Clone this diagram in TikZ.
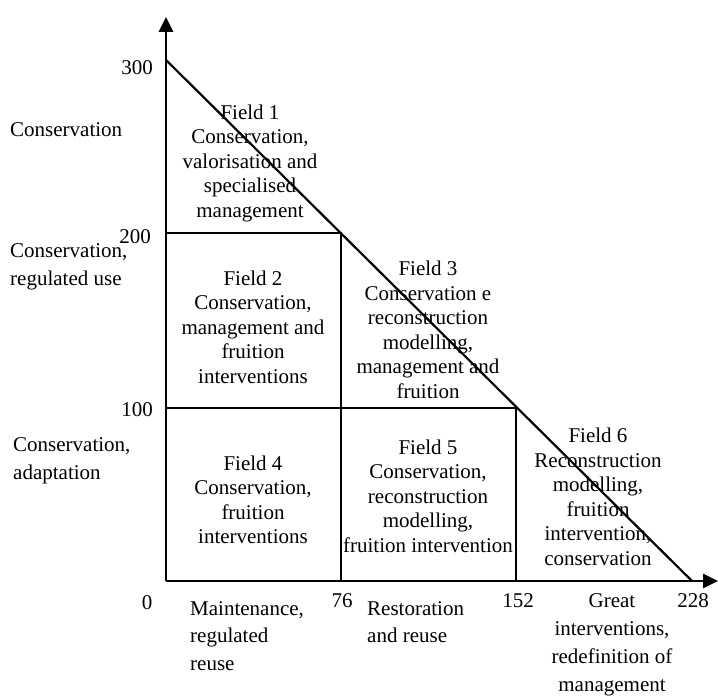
\documentclass[tikz,border=0pt]{standalone}
\usepackage{fontspec}
\setmainfont{Liberation Serif}
\usetikzlibrary{arrows.meta}
\begin{document}
\begin{tikzpicture}[x=1pt,y=-1pt,
  axis/.style={line width=2.8pt, -{Triangle[width=14pt,length=15pt]}},
  diag/.style={line width=2.2pt},
  gridline/.style={line width=1.8pt},
  fieldtxt/.style={font=\fontsize{21}{24.5}\selectfont, align=center, inner sep=0pt},
  sidetxt/.style={font=\fontsize{21}{27.5}\selectfont, align=left, inner sep=0pt, anchor=west},
  bottxt/.style={font=\fontsize{21}{28}\selectfont, align=center, inner sep=0pt},
  ticktxt/.style={font=\fontsize{21}{24}\selectfont, inner sep=0pt}]
\useasboundingbox (0,0) rectangle (718,698);

% corner points of the grid
\coordinate (O) at (166,581);
\coordinate (Ytop) at (166,17);
\coordinate (Xend) at (718,581);
\coordinate (P300) at (166,60);
\coordinate (P228) at (692,581);
\coordinate (A200) at (166,233);
\coordinate (B) at (341,233);
\coordinate (B0) at (341,581);
\coordinate (A100) at (166,408);
\coordinate (C) at (516,408);
\coordinate (C0) at (516,581);

% grid lines
\draw[gridline] (A200) -- (B) -- (B0);
\draw[gridline] (A100) -- (C) -- (C0);

% limit line
\draw[diag] (P300) -- (P228);

% axes
\draw[axis] (O) -- (Ytop);
\draw[axis] (O) -- (Xend);

% tick values
\node[ticktxt, anchor=east] (t300) at (153,68) {300};
\node[ticktxt, anchor=east] (t200) at (151,237) {200};
\node[ticktxt, anchor=east] (t100) at (153,410) {100};
\node[ticktxt] (t0) at (147,603) {0};
\node[ticktxt] (t76) at (342,601) {76};
\node[ticktxt] (t152) at (518,601) {152};
\node[ticktxt] (t228) at (693,601) {228};

% vertical axis categories
\node[sidetxt] (lv1) at (10,130) {Conservation};
\node[sidetxt] (lv2) at (10,267) {Conservation,\\regulated use};
\node[sidetxt] (lv3) at (13,461) {Conservation,\\adaptation};

% horizontal axis categories
\node[sidetxt] (lh1) at (190,636) {Maintenance,\\regulated\\reuse};
\node[sidetxt] (lh2) at (367,622) {Restoration\\and reuse};
\node[bottxt] (lh3) at (612,645) {Great\\interventions,\\redefinition of\\management};

% fields
\node[fieldtxt] (f1) at (250,163) {Field 1\\Conservation,\\valorisation and\\specialised\\management};
\node[fieldtxt] (f2) at (253,327) {Field 2\\Conservation,\\management and\\fruition\\interventions};
\node[fieldtxt] (f3) at (428,330) {Field 3\\Conservation e\\reconstruction\\modelling,\\management and\\fruition};
\node[fieldtxt] (f4) at (253,500) {Field 4\\Conservation,\\fruition\\interventions};
\node[fieldtxt] (f5) at (428,496) {Field 5\\Conservation,\\reconstruction\\modelling,\\fruition intervention};
\node[fieldtxt] (f6) at (598,497) {Field 6\\Reconstruction\\modelling,\\fruition\\intervention,\\conservation};
\end{tikzpicture}
\end{document}
